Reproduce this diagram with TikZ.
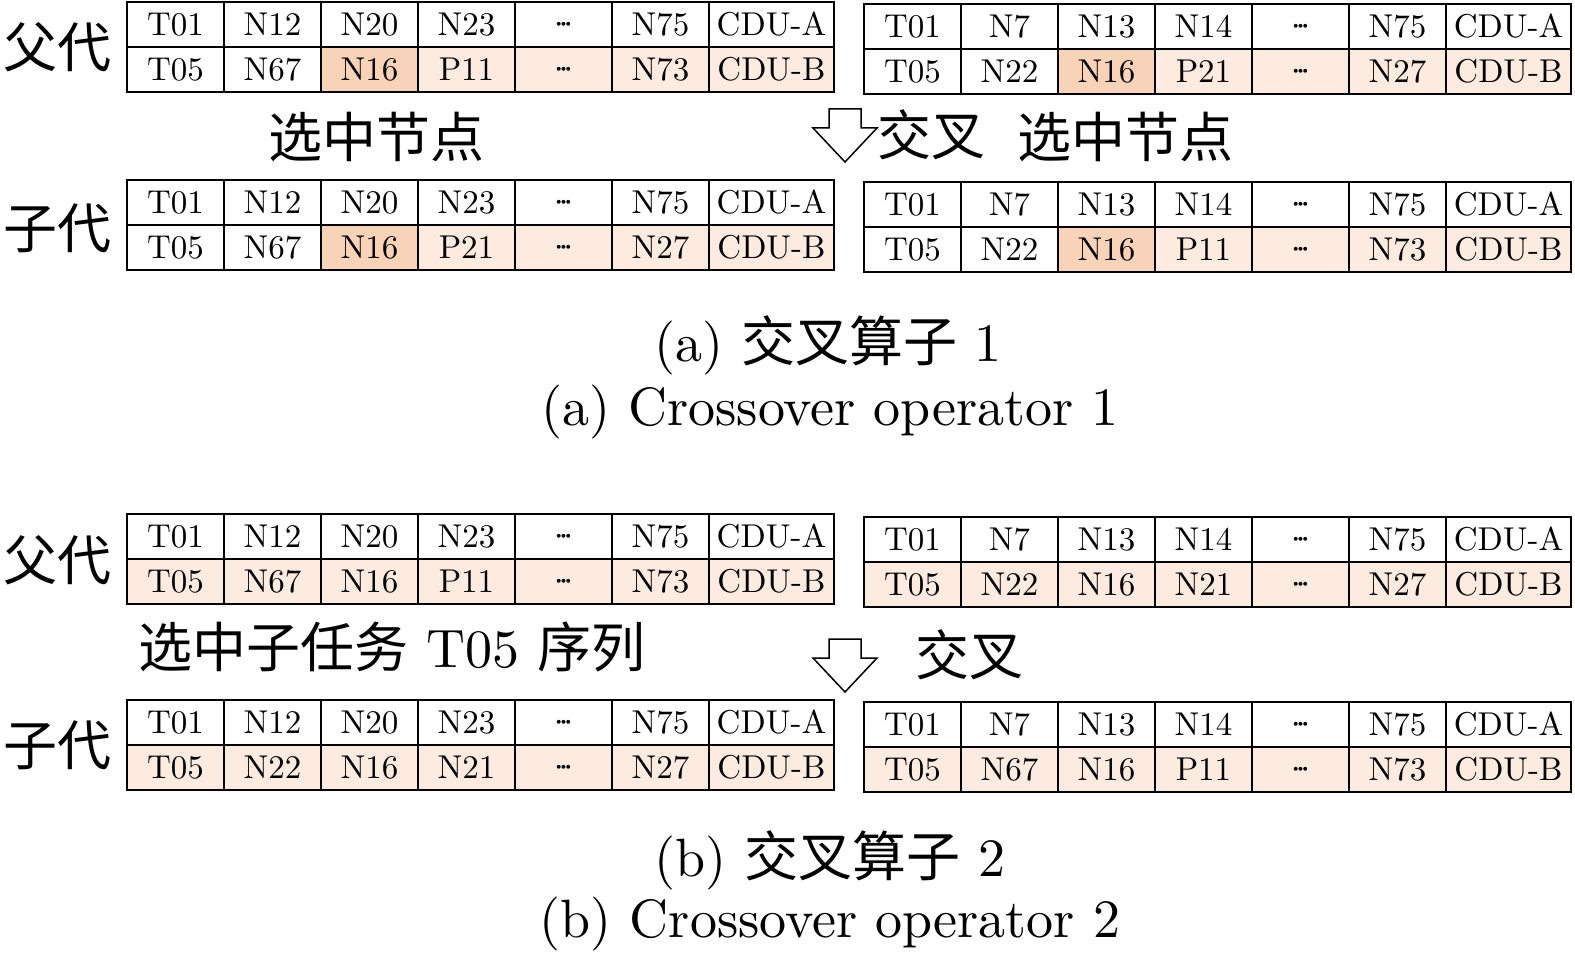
\documentclass[tikz,border=0pt]{standalone}
\usepackage{fontspec}
\setmainfont{lmroman10-regular.otf}[BoldFont=lmroman10-bold.otf]
\newfontfamily\cjk{Noto Sans CJK SC}
\definecolor{dk}{HTML}{F9D3B8}
\definecolor{lt}{HTML}{FDEBDF}
\tikzset{
  cell/.style={draw=black, line width=1.9pt, inner sep=0pt, minimum height=45pt,
    font=\fontsize{33}{36}\selectfont},
  big/.style={inner sep=0pt, font=\fontsize{54}{60}\selectfont},
  blockarrow/.style={draw=black, line width=1.5pt, fill=white, line join=miter}
}
\newcommand\dd{{\fontsize{26}{26}\selectfont\boldmath${\cdot}\mkern-2mu{\cdot}\mkern-2mu{\cdot}$}}
% #1 name prefix, #2 x0, #3 y top, #4 list text/fill
\newcommand\tblrow[4]{%
  \foreach \t/\f [count=\i] in {#4}{%
    \pgfmathsetmacro\w{\i<7 ? 97 : 125}%
    \pgfmathsetmacro\cx{#2 + 97*(\i-1) + \w/2}%
    \node[cell, fill=\f, minimum width=\w pt] (#1-\i) at (\cx, #3+22.5) {\t};
  }}
\newcommand\blockarrow[3]{% #1 center x, #2 top y, #3 name
  \coordinate (#3) at (#1,#2);
  \draw[blockarrow] (#1-16,#2) -- (#1+16,#2) -- (#1+16,#2+19) -- (#1+32,#2+19)
    -- (#1,#2+53) -- (#1-32,#2+19) -- (#1-16,#2+19) -- cycle;}
\begin{document}
\begin{tikzpicture}[x=1pt,y=-1pt]
\useasboundingbox[fill=white] (0,0) rectangle (1575,960);

% ---------- (a) ----------
\tblrow{aPL1}{127}{2}{T01/white,N12/white,N20/white,N23/white,\dd/white,N75/white,CDU-A/white}
\tblrow{aPL2}{127}{47}{T05/white,N67/white,N16/dk,P11/lt,\dd/lt,N73/lt,CDU-B/lt}
\tblrow{aPR1}{864}{4}{T01/white,N7/white,N13/white,N14/white,\dd/white,N75/white,CDU-A/white}
\tblrow{aPR2}{864}{49}{T05/white,N22/white,N16/dk,P21/lt,\dd/lt,N27/lt,CDU-B/lt}

\tblrow{aCL1}{127}{180}{T01/white,N12/white,N20/white,N23/white,\dd/white,N75/white,CDU-A/white}
\tblrow{aCL2}{127}{225}{T05/white,N67/white,N16/dk,P21/lt,\dd/lt,N27/lt,CDU-B/lt}
\tblrow{aCR1}{864}{182}{T01/white,N7/white,N13/white,N14/white,\dd/white,N75/white,CDU-A/white}
\tblrow{aCR2}{864}{227}{T05/white,N22/white,N16/dk,P11/lt,\dd/lt,N73/lt,CDU-B/lt}

\node[big] (aP) at (57,47) {\cjk 父代};
\node[big] (aC) at (57,228) {\cjk 子代};
\node[big] (aSel1) at (376,137) {\cjk 选中节点};
\blockarrow{845}{109}{aArr}
\node[big] (aX) at (931,135) {\cjk 交叉};
\node[big] (aSel2) at (1125,137) {\cjk 选中节点};

\node[big] (capA1) at (828,345) {(a) {\cjk 交叉算子} 1};
\node[big] (capA2) at (830,412) {(a) Crossover operator 1};

% ---------- (b) ----------
\tblrow{bPL1}{127}{514}{T01/white,N12/white,N20/white,N23/white,\dd/white,N75/white,CDU-A/white}
\tblrow{bPL2}{127}{559}{T05/lt,N67/lt,N16/lt,P11/lt,\dd/lt,N73/lt,CDU-B/lt}
\tblrow{bPR1}{864}{517}{T01/white,N7/white,N13/white,N14/white,\dd/white,N75/white,CDU-A/white}
\tblrow{bPR2}{864}{562}{T05/lt,N22/lt,N16/lt,N21/lt,\dd/lt,N27/lt,CDU-B/lt}

\tblrow{bCL1}{127}{700}{T01/white,N12/white,N20/white,N23/white,\dd/white,N75/white,CDU-A/white}
\tblrow{bCL2}{127}{745}{T05/lt,N22/lt,N16/lt,N21/lt,\dd/lt,N27/lt,CDU-B/lt}
\tblrow{bCR1}{864}{702}{T01/white,N7/white,N13/white,N14/white,\dd/white,N75/white,CDU-A/white}
\tblrow{bCR2}{864}{747}{T05/lt,N67/lt,N16/lt,P11/lt,\dd/lt,N73/lt,CDU-B/lt}

\node[big] (bP) at (57,560) {\cjk 父代};
\node[big] (bC) at (57,745) {\cjk 子代};
\node[big] (bSel) at (392,647) {{\cjk 选中子任务} T05 {\cjk 序列}};
\blockarrow{845}{639}{bArr}
\node[big] (bX) at (969,655) {\cjk 交叉};

\node[big] (capB1) at (830,860) {(b) {\cjk 交叉算子} 2};
\node[big] (capB2) at (830,924) {(b) Crossover operator 2};
\end{tikzpicture}
\end{document}
